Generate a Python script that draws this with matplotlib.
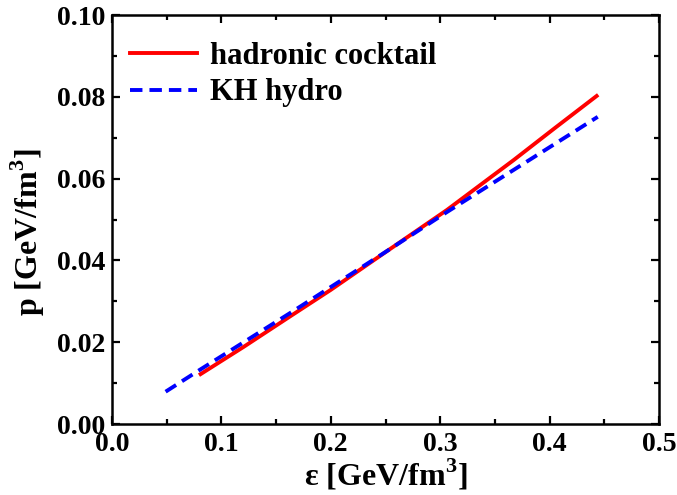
import matplotlib
matplotlib.use("Agg")
import matplotlib.pyplot as plt
from matplotlib.ticker import MultipleLocator, FormatStrFormatter

plt.rcParams['font.family'] = ['Liberation Serif', 'DejaVu Serif']
plt.rcParams['font.weight'] = 'bold'
plt.rcParams['mathtext.fontset'] = 'custom'
plt.rcParams['mathtext.rm'] = 'Liberation Serif:bold'
plt.rcParams['mathtext.bf'] = 'Liberation Serif:bold'

# hadronic cocktail
eps_had = [0.081, 0.12, 0.165, 0.20, 0.245, 0.306, 0.367, 0.405, 0.443]
p_had = [0.0122, 0.0188, 0.0267, 0.0328, 0.0411, 0.0523, 0.0645, 0.0724, 0.0802]
# KH hydro
eps_kh = [0.049, 0.08, 0.165, 0.245, 0.306, 0.367, 0.444]
p_kh = [0.0079, 0.0132, 0.0275, 0.0412, 0.0518, 0.0621, 0.0751]

fig = plt.figure(figsize=(6.77, 4.95), dpi=100)
ax = fig.add_axes([112/677, 1 - 424/495, (659-112)/677, (424-15)/495])

ax.plot(eps_had, p_had, color='#ff0000', lw=2.8, label='hadronic cocktail')
ax.plot(eps_kh, p_kh, color='#0000ff', lw=2.8, ls=(0, (3.2, 1.8)), label='KH hydro')

ax.set_xlim(0.0, 0.5)
ax.set_ylim(0.0, 0.10)
ax.xaxis.set_major_locator(MultipleLocator(0.1))
ax.xaxis.set_minor_locator(MultipleLocator(0.05))
ax.yaxis.set_major_locator(MultipleLocator(0.02))
ax.yaxis.set_minor_locator(MultipleLocator(0.01))
ax.xaxis.set_major_formatter(FormatStrFormatter('%.1f'))
ax.yaxis.set_major_formatter(FormatStrFormatter('%.2f'))
ax.tick_params(which='both', direction='in', top=True, right=True, width=1.6,
               labelsize=20)
ax.tick_params(which='major', length=6)
ax.tick_params(which='minor', length=3.5)
ax.tick_params(axis='y', pad=5)
ax.tick_params(axis='x', pad=6)
for s in ax.spines.values():
    s.set_linewidth(1.8)
for lab in ax.get_xticklabels() + ax.get_yticklabels():
    lab.set_fontweight('bold')

ax.set_xlabel(r'ε [GeV/fm$^{\mathbf{3}}$]', fontsize=23, fontweight='bold', labelpad=0)
ax.set_ylabel(r'p [GeV/fm$^{\mathbf{3}}$]', fontsize=23, fontweight='bold')
ax.yaxis.set_label_coords(-0.118, 0.47)

leg = ax.legend(loc='upper left', frameon=False, fontsize=22, handlelength=2.2,
                handletextpad=0.42, labelspacing=0.25, borderpad=0, borderaxespad=0,
                bbox_to_anchor=(0.033, 0.935))
for t in leg.get_texts():
    t.set_fontweight('bold')

fig.savefig('out.png', dpi=100)
